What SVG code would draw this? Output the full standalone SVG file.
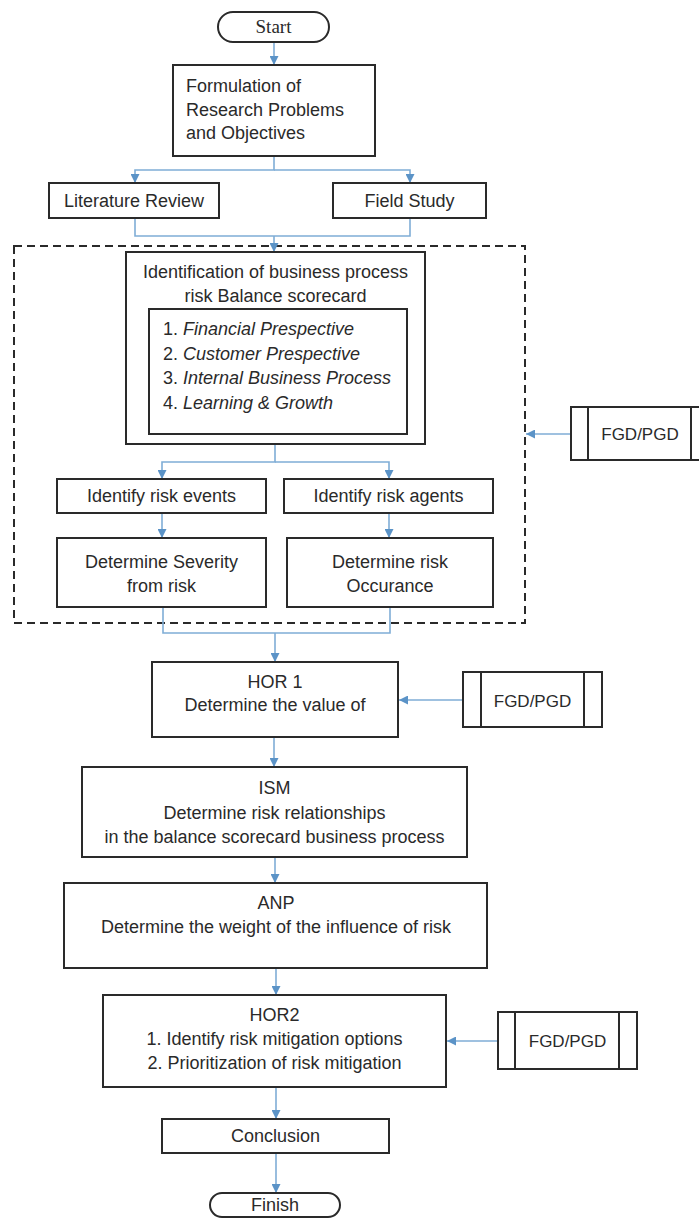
<svg xmlns="http://www.w3.org/2000/svg" width="699" height="1218" viewBox="0 0 699 1218">
<defs>
<marker id="arr" markerUnits="userSpaceOnUse" markerWidth="10" markerHeight="9" refX="9" refY="4.5" orient="auto">
<path d="M0,0 L9,4.5 L0,9 z" fill="#5b93c7"/>
</marker>
<style>
.box{fill:#fff;stroke:#2a2a2a;stroke-width:2}
.t{font-family:"Liberation Sans",Arial,sans-serif;font-size:18px;fill:#2a2a2a}
.c{text-anchor:middle}
.i{font-style:italic}
.con{fill:none;stroke:#7fadd6;stroke-width:1.6}
.ar{marker-end:url(#arr)}
.dash{fill:none;stroke:#2a2a2a;stroke-width:2;stroke-dasharray:8 5}
</style>
</defs>
<rect width="699" height="1218" fill="#fff"/>

<g id="frame">
<rect class="dash" x="14" y="246" width="511" height="377"/>
</g>

<g id="connectors">
<path class="con ar" d="M274,42 V65"/>
<path class="con ar" d="M274,156 V170 H135 V183"/>
<path class="con ar" d="M274,170 H410 V183"/>
<path class="con" d="M135,218 V236 H410 V218"/>
<path class="con ar" d="M274,236 V252"/>
<path class="con ar" d="M275,444 V462 H162 V479"/>
<path class="con ar" d="M275,462 H389 V479"/>
<path class="con ar" d="M162,513 V538"/>
<path class="con ar" d="M389,513 V538"/>
<path class="con" d="M163,607 V633 H390 V607"/>
<path class="con ar" d="M275,633 V662"/>
<path class="con ar" d="M571,434 H526"/>
<path class="con ar" d="M274,737 V767"/>
<path class="con ar" d="M463,700 H399"/>
<path class="con ar" d="M275,857 V883"/>
<path class="con ar" d="M276,968 V995"/>
<path class="con ar" d="M498,1041 H447"/>
<path class="con ar" d="M276,1087 V1119"/>
<path class="con ar" d="M276,1153 V1193"/>
</g>

<g id="start">
<rect class="box" x="218" y="12" width="111" height="30" rx="15"/>
<text x="273.5" y="33" text-anchor="middle" style="font-family:'Liberation Serif','Times New Roman',serif;font-size:19px;fill:#2a2a2a">Start</text>
</g>

<g id="formulation">
<rect class="box" x="173" y="65" width="202" height="91"/>
<text class="t" x="186" y="92">Formulation of</text>
<text class="t" x="186" y="116">Research Problems</text>
<text class="t" x="186" y="139">and Objectives</text>
</g>

<g id="literature">
<rect class="box" x="49" y="183" width="170" height="35"/>
<text class="t c" x="134" y="207">Literature Review</text>
</g>

<g id="field">
<rect class="box" x="333" y="183" width="153" height="35"/>
<text class="t c" x="409.5" y="207">Field Study</text>
</g>

<g id="identification">
<rect class="box" x="126" y="252" width="299" height="192"/>
<text class="t c" x="275.5" y="278">Identification of business process</text>
<text class="t c" x="275.5" y="302">risk Balance scorecard</text>
<rect class="box" x="149" y="309" width="258" height="125"/>
<text class="t" x="163" y="335">1. <tspan class="i">Financial Prespective</tspan></text>
<text class="t" x="163" y="360">2. <tspan class="i">Customer Prespective</tspan></text>
<text class="t" x="163" y="384">3. <tspan class="i">Internal Business Process</tspan></text>
<text class="t" x="163" y="409">4. <tspan class="i">Learning &amp; Growth</tspan></text>
</g>

<g id="fgd1">
<rect class="box" x="571" y="407" width="138" height="53"/>
<line x1="588" y1="407" x2="588" y2="460" stroke="#2a2a2a" stroke-width="2"/>
<line x1="691" y1="407" x2="691" y2="460" stroke="#2a2a2a" stroke-width="2"/>
<text class="t c" x="640" y="440" style="font-size:17px">FGD/PGD</text>
</g>

<g id="riskEvents">
<rect class="box" x="57" y="479" width="209" height="34"/>
<text class="t c" x="161.5" y="502">Identify risk events</text>
</g>

<g id="riskAgents">
<rect class="box" x="284" y="479" width="209" height="34"/>
<text class="t c" x="388.5" y="502">Identify risk agents</text>
</g>

<g id="severity">
<rect class="box" x="57" y="538" width="209" height="69"/>
<text class="t c" x="161.5" y="568">Determine Severity</text>
<text class="t c" x="161.5" y="592">from risk</text>
</g>

<g id="occurance">
<rect class="box" x="287" y="538" width="206" height="69"/>
<text class="t c" x="390" y="568">Determine risk</text>
<text class="t c" x="390" y="592">Occurance</text>
</g>

<g id="hor1">
<rect class="box" x="152" y="662" width="246" height="75"/>
<text class="t c" x="275" y="688">HOR 1</text>
<text class="t c" x="275" y="711">Determine the value of</text>
</g>

<g id="fgd2">
<rect class="box" x="463" y="672" width="139" height="55"/>
<line x1="481" y1="672" x2="481" y2="727" stroke="#2a2a2a" stroke-width="2"/>
<line x1="584" y1="672" x2="584" y2="727" stroke="#2a2a2a" stroke-width="2"/>
<text class="t c" x="532.5" y="707" style="font-size:17px">FGD/PGD</text>
</g>

<g id="ism">
<rect class="box" x="82" y="767" width="385" height="90"/>
<text class="t c" x="274.5" y="794">ISM</text>
<text class="t c" x="274.5" y="819">Determine risk relationships</text>
<text class="t c" x="274.5" y="843">in the balance scorecard business process</text>
</g>

<g id="anp">
<rect class="box" x="64" y="883" width="423" height="85"/>
<text class="t c" x="276" y="909">ANP</text>
<text class="t c" x="276" y="933">Determine the weight of the influence of risk</text>
</g>

<g id="hor2">
<rect class="box" x="103" y="995" width="343" height="92"/>
<text class="t c" x="274.5" y="1021">HOR2</text>
<text class="t c" x="274.5" y="1045">1. Identify risk mitigation options</text>
<text class="t c" x="274.5" y="1069">2. Prioritization of risk mitigation</text>
</g>

<g id="fgd3">
<rect class="box" x="498" y="1012" width="139" height="57"/>
<line x1="515" y1="1012" x2="515" y2="1069" stroke="#2a2a2a" stroke-width="2"/>
<line x1="619" y1="1012" x2="619" y2="1069" stroke="#2a2a2a" stroke-width="2"/>
<text class="t c" x="567.5" y="1047" style="font-size:17px">FGD/PGD</text>
</g>

<g id="conclusion">
<rect class="box" x="162" y="1119" width="227" height="34"/>
<text class="t c" x="275.5" y="1142">Conclusion</text>
</g>

<g id="finish">
<rect class="box" x="210" y="1193" width="130" height="24" rx="12"/>
<text class="t c" x="275" y="1211">Finish</text>
</g>
</svg>
